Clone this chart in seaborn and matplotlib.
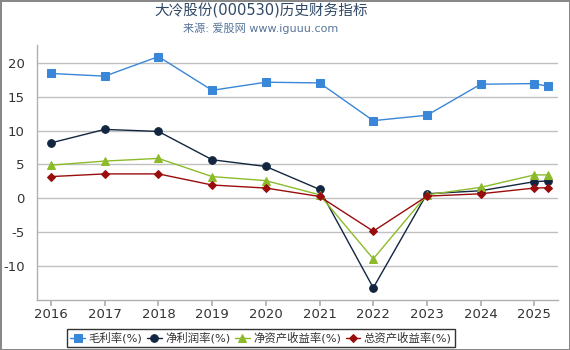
import matplotlib
matplotlib.use("Agg")
import matplotlib.pyplot as plt
import seaborn as sns
import pandas as pd

years = [2016, 2017, 2018, 2019, 2020, 2021, 2022, 2023, 2024, 2025, 2025.25]
year_ticks = [2016, 2017, 2018, 2019, 2020, 2021, 2022, 2023, 2024, 2025]
gross_margin = [18.5, 18.1, 21.0, 16.0, 17.2, 17.1, 11.5, 12.3, 16.9, 17.0, 16.6]
net_margin = [8.2, 10.2, 9.9, 5.7, 4.7, 1.3, -13.3, 0.65, 1.1, 2.45, 2.55]
roe = [4.9, 5.5, 5.9, 3.2, 2.6, 0.5, -9.0, 0.5, 1.6, 3.45, 3.45]
roa = [3.2, 3.6, 3.6, 1.95, 1.5, 0.25, -4.9, 0.3, 0.65, 1.5, 1.55]
series_names = ["毛利率(%)", "净利润率(%)", "净资产收益率(%)", "总资产收益率(%)"]
y_ticks = [-10, -5, 0, 5, 10, 15, 20]

sns.set_theme(style="white")
plt.rcParams['font.family'] = ['DejaVu Sans', 'Noto Sans CJK SC']
plt.rcParams['axes.unicode_minus'] = False

rows = []
for name, vals in zip(series_names, [gross_margin, net_margin, roe, roa]):
    for x, v in zip(years, vals):
        rows.append({"year": x, "value": v, "series": name})
df = pd.DataFrame(rows)

colors = ["#3a86d8", "#13263f", "#8cbb2a", "#9a0d0d"]
markers = ["s", "o", "^", "D"]
sizes = [5.5, 5.5, 5.5, 4]

fig = plt.figure(figsize=(5.7, 3.5), dpi=100)
fig.patch.set_edgecolor("#888888")
fig.patch.set_linewidth(2)
ax = fig.add_axes([0.065, 0.143, 0.914, 0.728])

for name, c, m, s in zip(series_names, colors, markers, sizes):
    sub = df[df["series"] == name]
    sns.lineplot(data=sub, x="year", y="value", ax=ax, color=c, marker=m,
                 markersize=s, markeredgecolor=c, linewidth=1.0, label=name)

ax.set_xlim(2015.74, 2025.44)
ax.set_ylim(-15.1, 22.7)
ax.set_xticks(year_ticks)
ax.set_xticklabels([str(y) for y in year_ticks])
ax.set_yticks(y_ticks)
ax.set_xlabel("")
ax.set_ylabel("")
ax.grid(axis="y", color="#c0c0c0", linewidth=1)
ax.set_axisbelow(True)
for sp in ["top", "right"]:
    ax.spines[sp].set_visible(False)
for sp in ["left", "bottom"]:
    ax.spines[sp].set_color("#b0b0b0")
    ax.spines[sp].set_linewidth(1)
ax.tick_params(axis="x", bottom=True, length=4, color="#b0b0b0", labelsize=9.5, labelcolor="#333333", pad=2)
ax.tick_params(axis="y", left=False, labelsize=9.5, labelcolor="#333333", pad=3)

fig.text(0.458, 0.968, "大冷股份(000530)历史财务指标", ha="center", va="center",
         fontsize=10.5, color="#2e4866")
fig.text(0.458, 0.92, "来源: 爱股网 www.iguuu.com", ha="center", va="center",
         fontsize=8, color="#56759a")

handles, labels = ax.get_legend_handles_labels()
ax.get_legend().remove()
leg = fig.legend(handles, labels, loc="lower center", bbox_to_anchor=(0.458, -0.008), ncol=4,
                 frameon=True, fontsize=8.2, handlelength=1.3, handletextpad=0.3,
                 columnspacing=0.4, borderpad=0.3, fancybox=False)
leg.get_frame().set_edgecolor("black")
leg.get_frame().set_linewidth(1)
for t in leg.get_texts():
    t.set_color("#333333")

fig.savefig("out.png", dpi=100)
